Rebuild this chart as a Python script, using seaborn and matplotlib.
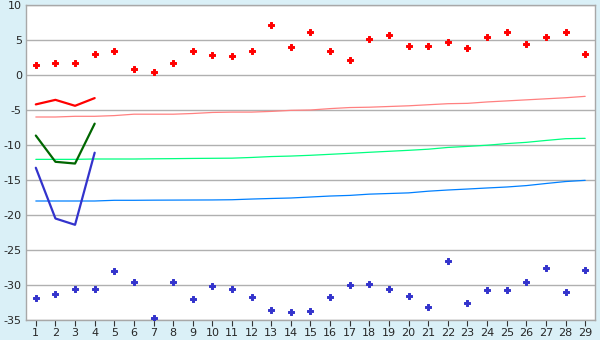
import matplotlib
matplotlib.use("Agg")
import matplotlib.pyplot as plt
import seaborn as sns
import pandas as pd

days = list(range(1, 30))

max_temps = [1.5, 1.7, 1.7, 3.0, 3.4, 0.8, 0.4, 1.7, 3.4, 2.8, 2.7, 3.4, 7.1, 3.95, 6.1,
             3.5, 2.2, 5.1, 5.7, 4.1, 4.1, 4.7, 3.8, 5.4, 6.2, 4.4, 5.4, 6.1, 2.95]
min_temps = [-31.9, -31.3, -30.5, -30.5, -28.05, -29.5, -34.75, -29.6, -32.05, -30.2, -30.6,
             -31.75, -33.6, -33.9, -33.75, -31.75, -30.05, -29.9, -30.6, -31.5, -33.2, -26.5,
             -32.6, -30.75, -30.75, -29.6, -27.5, -31.05, -27.9]

fc_days = [1, 2, 3, 4]
fc_max = [-4.2, -3.55, -4.4, -3.3]
fc_mean = [-8.65, -12.4, -12.65, -6.95]
fc_min = [-13.25, -20.5, -21.4, -11.1]

norm_max = [-6.0, -6.0, -5.9, -5.9, -5.8, -5.6, -5.6, -5.6, -5.5, -5.35, -5.3, -5.3, -5.2,
            -5.05, -5.0, -4.8, -4.65, -4.6, -4.5, -4.4, -4.25, -4.1, -4.05, -3.85, -3.7,
            -3.55, -3.4, -3.25, -3.05]
norm_mean = [-12.05, -12.05, -12.05, -12.0, -12.0, -12.0, -11.97, -11.95, -11.92, -11.9,
             -11.88, -11.78, -11.65, -11.58, -11.47, -11.33, -11.19, -11.04, -10.9, -10.76,
             -10.6, -10.35, -10.2, -10.03, -9.8, -9.62, -9.35, -9.1, -9.05]
norm_min = [-18.0, -18.0, -18.0, -18.0, -17.9, -17.9, -17.88, -17.87, -17.86, -17.85,
            -17.82, -17.72, -17.64, -17.57, -17.43, -17.29, -17.2, -17.02, -16.93, -16.84,
            -16.6, -16.43, -16.29, -16.14, -16.0, -15.8, -15.5, -15.22, -15.05]

y_ticks = [10, 5, 0, -5, -10, -15, -20, -25, -30, -35]

df = pd.DataFrame({"day": days, "tmax": max_temps, "tmin": min_temps,
                   "nmax": norm_max, "nmean": norm_mean, "nmin": norm_min})
fc = pd.DataFrame({"day": fc_days, "max": fc_max, "mean": fc_mean, "min": fc_min})

sns.set_theme(style="white")
plt.rcParams['font.family'] = ['DejaVu Sans']

fig = plt.figure(figsize=(6.0, 3.4), dpi=100)
fig.patch.set_facecolor("#daf0f7")
ax = fig.add_axes([26 / 600, 1 - 320 / 340, (595 - 26) / 600, (320 - 5) / 340])
ax.set_facecolor("white")

# norm lines
sns.lineplot(data=df, x="day", y="nmax", ax=ax, color="#ff8080", linewidth=0.9, zorder=3)
sns.lineplot(data=df, x="day", y="nmean", ax=ax, color="#00ff80", linewidth=0.9, zorder=3)
sns.lineplot(data=df, x="day", y="nmin", ax=ax, color="#0080ff", linewidth=0.9, zorder=3)

# forecast lines
sns.lineplot(data=fc, x="day", y="max", ax=ax, color="#ff0000", linewidth=1.6, zorder=4)
sns.lineplot(data=fc, x="day", y="mean", ax=ax, color="#006600", linewidth=1.6, zorder=4)
sns.lineplot(data=fc, x="day", y="min", ax=ax, color="#3333cc", linewidth=1.6, zorder=4)

# daily extremes
sns.scatterplot(data=df, x="day", y="tmax", ax=ax, color="#ff0000", marker="P",
                s=18, linewidth=0.7, edgecolor="#ff0000", zorder=5)
sns.scatterplot(data=df, x="day", y="tmin", ax=ax, color="#3333cc", marker="P",
                s=16, linewidth=0.7, edgecolor="#3333cc", zorder=5)

ax.set_xlim(0.5, 29.5)
ax.set_ylim(-35, 10)
ax.set_xticks(days)
ax.set_xticklabels([str(d) for d in days])
ax.set_yticks(y_ticks)
ax.set_yticklabels([str(t) for t in y_ticks])
ax.set_xlabel("")
ax.set_ylabel("")

ax.grid(axis="y", color="#b0b0b0", linewidth=1.0)
ax.set_axisbelow(True)
for side in ["left", "right", "top", "bottom"]:
    ax.spines[side].set_color("#a8a8a8")
    ax.spines[side].set_linewidth(1.0)

ax.tick_params(axis="x", direction="out", length=4, width=0.8, color="#333333",
               labelsize=8, pad=2, bottom=True)
ax.tick_params(axis="y", length=0, labelsize=8, pad=3, left=False)

fig.savefig("out.png", dpi=100, facecolor=fig.get_facecolor())
